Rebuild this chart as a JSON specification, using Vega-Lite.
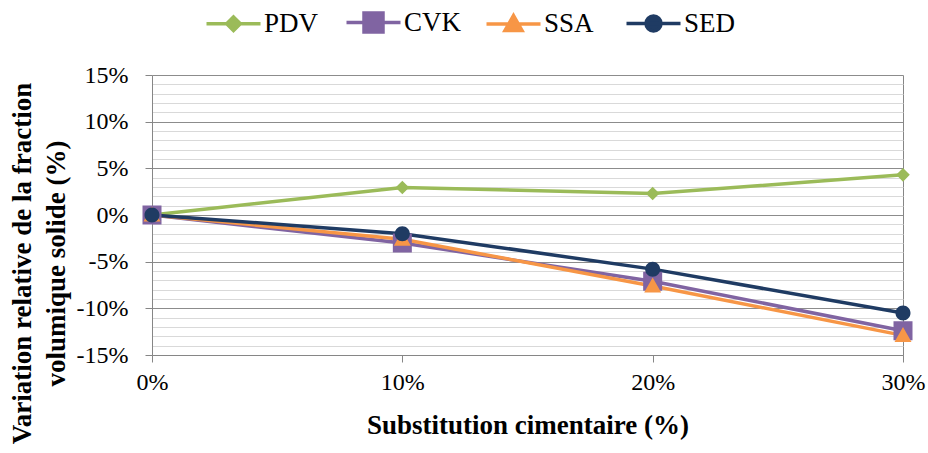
{
  "$schema": "https://vega.github.io/schema/vega-lite/v6.json",
  "width": 751,
  "height": 280,
  "autosize": "none",
  "padding": {"left": 152, "top": 75, "right": 25, "bottom": 98},
  "background": "white",
  "config": {
    "view": {"stroke": null},
    "font": "Liberation Serif, Times New Roman, serif",
    "axis": {"labelFont": "Liberation Serif, Times New Roman, serif", "titleFont": "Liberation Serif, Times New Roman, serif", "labelColor": "black", "titleColor": "black"},
    "legend": {"labelFont": "Liberation Serif, Times New Roman, serif"}
  },
  "data": {
    "values": [
      {"series": "PDV", "x": 0, "y": 0},
      {"series": "PDV", "x": 10, "y": 2.95},
      {"series": "PDV", "x": 20, "y": 2.3},
      {"series": "PDV", "x": 30, "y": 4.3},
      {"series": "CVK", "x": 0, "y": 0},
      {"series": "CVK", "x": 10, "y": -3.0},
      {"series": "CVK", "x": 20, "y": -7.1},
      {"series": "CVK", "x": 30, "y": -12.4},
      {"series": "SSA", "x": 0, "y": 0},
      {"series": "SSA", "x": 10, "y": -2.6},
      {"series": "SSA", "x": 20, "y": -7.6},
      {"series": "SSA", "x": 30, "y": -12.9},
      {"series": "SED", "x": 0, "y": 0},
      {"series": "SED", "x": 10, "y": -2.0},
      {"series": "SED", "x": 20, "y": -5.8},
      {"series": "SED", "x": 30, "y": -10.5}
    ]
  },
  "resolve": {"axis": {"x": "independent", "y": "independent"}},
  "layer": [
    {
      "mark": {"type": "line", "strokeWidth": 3.5},
      "encoding": {
        "x": {"field": "x", "type": "quantitative", "scale": {"domain": [0, 30], "nice": false},
          "axis": {"orient": "bottom", "values": [30], "grid": true, "gridColor": "#868686", "gridWidth": 1, "labels": false, "ticks": false, "domain": false, "title": null}},
        "y": {"field": "y", "type": "quantitative", "scale": {"domain": [-15, 15], "nice": false},
          "axis": {"orient": "left", "values": [-14,-13,-12,-11,-9,-8,-7,-6,-4,-3,-2,-1,1,2,3,4,6,7,8,9,11,12,13,14], "grid": true, "gridColor": "#d9d9d9", "gridWidth": 1, "labels": false, "ticks": false, "domain": false, "title": null}},
        "color": {"field": "series", "type": "nominal", "scale": {"domain": ["PDV", "CVK", "SSA", "SED"], "range": ["#9BBB59", "#8064A2", "#F79646", "#1F3B63"]},
          "legend": {"orient": "none", "direction": "horizontal", "columns": 4, "gridAlign": "all", "legendX": 68, "legendY": -66, "title": null, "labelFontSize": 27, "labelColor": "black", "symbolSize": 400, "labelOffset": 17, "columnPadding": 17, "padding": 0,
            "encode": {"symbols": {"update": {"stroke": {"scale": "color", "field": "value"}, "fill": {"scale": "color", "field": "value"}, "strokeWidth": {"value": 3.5}, "opacity": {"value": 1}}}}}}
      }
    },
    {
      "mark": {"type": "point", "filled": true, "opacity": 1, "size": 400, "strokeWidth": 0},
      "encoding": {
        "x": {"field": "x", "type": "quantitative",
          "axis": {"orient": "bottom", "values": [0, 10, 20, 30], "labelExpr": "datum.value + '%'", "grid": false, "domainColor": "#868686", "tickColor": "#868686", "tickSize": 7, "labelFontSize": 24, "labelPadding": 8, "labelFlush": false,
            "title": "Substitution cimentaire (%)", "titleFontSize": 27, "titleFontWeight": "bold", "titlePadding": 18}},
        "y": {"field": "y", "type": "quantitative",
          "axis": {"orient": "left", "values": [-15, -10, -5, 0, 5, 10, 15], "labelExpr": "datum.value + '%'", "grid": true, "gridColor": "#8c8c8c", "gridWidth": 1, "domainColor": "#868686", "tickColor": "#868686", "tickSize": 7, "labelFontSize": 24, "labelPadding": 17,
            "title": ["Variation relative de la fraction", "volumique solide (%)"], "titleFontSize": 27, "titleFontWeight": "bold", "titleLineHeight": 34, "titleX": -116, "titleY": 188, "titleAngle": -90}},
        "color": {"field": "series", "type": "nominal"},
        "shape": {"field": "series", "type": "nominal", "scale": {"domain": ["PDV", "CVK", "SSA", "SED"], "range": [
          "M-2.7,0H2.7M0,-0.68L0.68,0L0,0.68L-0.68,0Z",
          "M-2.7,0H2.7M-0.95,-0.95H0.95V0.95H-0.95Z",
          "M-2.7,0H2.7M0,-0.85L0.85,0.65L-0.85,0.65Z",
          "M-2.7,0H2.7M0.75,0A0.75,0.75 0 1,1 -0.75,0A0.75,0.75 0 1,1 0.75,0Z"
        ]}}
      }
    }
  ]
}
